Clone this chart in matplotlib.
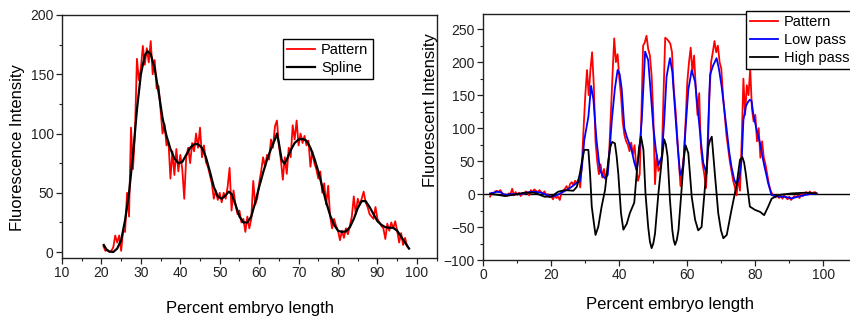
import numpy as np
import matplotlib
matplotlib.use("Agg")
import matplotlib.pyplot as plt
from matplotlib.ticker import MultipleLocator

plt.rcParams['font.family'] = ['Liberation Sans', 'DejaVu Sans']

# ---- left panel: pattern + spline ----
left_pattern_y = [
    5, 1, 2, 0, 1, 4, 14, 8, 14, 1,
    18, 17, 50, 30, 105, 70, 100, 163, 145, 155,
    174, 158, 172, 160, 178, 150, 162, 138, 140, 120,
    100, 108, 90, 93, 62, 85, 65, 87, 68, 82,
    70, 45, 80, 88, 75, 92, 85, 100, 88, 105,
    80, 90, 76, 72, 65, 58, 45, 52, 44, 50,
    42, 50, 45, 55, 71, 35, 52, 40, 32, 35,
    25, 28, 17, 30, 20, 28, 60, 40, 45, 58,
    68, 80, 72, 82, 78, 95, 88, 106, 111, 90,
    78, 61, 80, 66, 88, 80, 107, 95, 111, 90,
    100, 92, 98, 90, 94, 72, 85, 75, 70, 62,
    68, 50, 58, 40, 56, 30, 20, 28, 22, 18,
    10, 18, 12, 20, 15, 22, 30, 47, 32, 45,
    40, 45, 51, 42, 38, 32, 30, 28, 38, 28,
    25, 22, 20, 11, 24, 18, 25, 20, 26, 18,
    8, 16, 6, 12, 5, 3,
]
left_pattern_x = np.linspace(20.5, 98.0, len(left_pattern_y))

spline_x = [20.6, 21.3, 22, 23, 24, 25, 26, 27, 28, 29, 30, 31, 31.7, 32.5,
            33.5, 34.5, 35.5, 36.5, 37.5, 38.5, 39.5, 40.5, 41.5, 42.5, 43.5,
            44.5, 45.5, 46.5, 47.5, 48.5, 49.5, 50.5, 51.5, 52.3, 53, 54, 55,
            56, 57, 58, 59, 60, 61, 62, 63, 64, 64.5, 65, 65.7, 66.4, 67, 68,
            69, 70, 71, 72, 73, 74, 75, 76, 77, 78, 79, 80, 81, 82, 83, 84, 85,
            86, 87, 88, 89, 90, 91, 92, 93, 94, 95, 96, 97, 98]
spline_y = [6, 2, 0.5, 0, 3, 10, 27, 50, 82, 120, 150, 166, 169.5, 167,
            155, 135, 113, 98, 87, 79, 75, 76, 82, 88, 91,
            91, 88, 80, 68, 55, 47, 45, 48, 51, 49, 40, 30,
            25, 25, 30, 42, 55, 67, 78, 87, 95, 100, 92, 78, 74.5, 78, 86,
            92, 95, 95.5, 94, 88, 79, 68, 55, 42, 31, 23, 18, 17, 17.5, 21, 28, 37,
            43, 43, 38, 32, 26, 23, 21, 20.5, 20.5, 18, 13, 8, 3]

# ---- right panel: pattern, low pass, high pass ----
right_pattern_y = [
    -4, 2, 0, 4, 5, 3, 6, 2, -2, 0,
    -3, 1, 0, 8, -2, 3, -1, 2, -3, 1,
    0, 4, 2, -2, 6, 3, 7, 5, 2, 6,
    3, 1, 4, -2, 0, -5, -3, -8, -2, -6,
    -4, -9, 2, 5, 8, 12, 6, 15, 18, 14,
    20, 17, 22, 10, 45, 100, 150, 188, 150, 188,
    215, 165, 80, 50, 30, 45, 25, 38, 22, 35,
    60, 120, 180, 236, 200, 212, 175, 150, 110, 90,
    80, 75, 65, 78, 60, 74, 40, 20, 30, 120,
    225, 230, 240, 220, 210, 180, 120, 15, 60, 35,
    40, 55, 150, 237, 235, 232, 228, 215, 160, 130,
    90, 50, 12, 35, 60, 110, 170, 200, 222, 185,
    210, 160, 120, 153, 70, 45, 30, 9, 60, 150,
    200, 215, 232, 215, 225, 200, 190, 150, 120, 90,
    70, 50, 35, 20, 10, -2, 25, 5, 80, 175,
    120, 165, 150, 190, 130, 110, 120, 80, 100, 55,
    80, 55, 45, 30, 15, 5, 0, -3, -5, -2,
    -6, -3, -7, -2, -5, -8, -4, -9, -6, -3,
    -5, -2, -6, 0, -3, 1, 3, -1, 4, 1,
    2, 3, 1,
]
right_pattern_x = np.linspace(2.0, 98.0, len(right_pattern_y))

low_x = [2, 3, 4, 5, 6.4, 8, 10, 12, 13.5, 15.2, 17, 18.5, 20, 21.5, 23, 24.5,
         26, 27.5, 28.4, 29, 29.7, 30.9, 31.7, 32.4, 33.3, 34.3, 35.2, 35.8,
         36.6, 37.8, 38.7, 39.5, 40.1, 40.7, 41.5, 42.2, 43.6, 44.4, 45.1,
         45.8, 46.6, 47.6, 48.5, 49.3, 50, 50.8, 51.5, 52.5, 53.2, 53.9, 54.9,
         55.6, 56.4, 57.2, 57.9, 58.8, 59.5, 60.3, 61.3, 62.3, 63.3, 64, 64.7,
         65.7, 66.2, 66.7, 67.6, 68.6, 69.3, 70.1, 71.6, 72.3, 73, 73.8, 74.5,
         75.3, 76, 76.5, 77.2, 77.9, 78.4, 78.9, 79.4, 80.4, 81.4, 82, 82.6,
         83.3, 83.8, 84.8, 86.8, 88.5, 90.7, 92.5, 94.6, 96, 98]
low_y = [1, 2, 3.5, 3, -1.5, 0, -0.5, 1, 3, 3.5, 2, -1, -4, -2, 2, 6,
         11, 17, 19, 40, 82, 117, 164, 143, 82, 36, 27, 24,
         29, 112, 160, 188, 182, 160, 100, 87, 67, 48, 36,
         60, 112, 216, 203, 150, 102, 65, 44, 57, 110, 178, 206,
         185, 127, 70, 29, 41, 100, 158, 188, 170, 117, 80, 47,
         31, 110, 181, 195, 206, 190, 163, 97, 65, 41, 22, 14,
         25, 52, 112, 133, 140, 143, 141, 122, 97, 77, 60, 44,
         28, 16, -1.5, -4, -4, -6.6, -4, -1.5, 0, 0.5]

high_x = [2, 4, 6.4, 9, 12, 15, 18, 20, 22, 24, 26.5, 27.5, 28.4, 29.1, 29.7,
          30.9, 31.4, 31.9, 32.4, 33, 33.8, 34.8, 35.8, 36.8, 37.4, 37.9, 38.7,
          39.2, 39.7, 40.5, 41.2, 42.2, 43.1, 44.4, 45.1, 45.8, 46.4, 47.1,
          47.7, 48.5, 49.0, 49.5, 50.0, 50.5, 51.5, 52.5, 53.2, 53.7, 54.2,
          54.9, 55.6, 56.0, 56.4, 56.9, 57.4, 58.3, 59.0, 59.5, 60.3, 61.3,
          62.3, 63.2, 64.2, 65.2, 66.2, 66.7, 67.2, 68.1, 69.1, 69.9, 70.6,
          71.6, 73, 74.5, 75.5, 76.2, 76.7, 77.2, 78.4, 79.9, 81.4, 82.6,
          83.8, 84.8, 86.8, 90.7, 94.6, 98]
high_y = [0, -1, -3, -1, 2, 2, -4, -4, 3.5, 6, 5, 11, 31, 52, 67,
          67, 31, -19, -39, -62, -50, -19, 6, 52, 72, 79, 77,
          58, 31, -29, -54, -45, -29, -13, 31, 70, 87, 67,
          1, -50, -72, -82, -75, -60, 1, 52, 83, 75, 57,
          -9, -55, -70, -77, -70, -55, 6, 55, 74, 62, -4,
          -39, -55, -50, 11, 72, 82, 87, 31, -29, -55, -67,
          -62, -24, 14, 52, 56, 48, 31, -19, -24, -27, -32,
          -19, -7, -1.5, 1, 2, 1]

W, H = 850, 320
fig = plt.figure(figsize=(W / 100, H / 100), dpi=100)


def style_axes(ax):
    for sp in ax.spines.values():
        sp.set_linewidth(1.0)
        sp.set_color('#222222')
    ax.tick_params(which='major', direction='out', length=4, width=0.9,
                   labelsize=10, pad=2, colors='#222222')
    ax.tick_params(which='minor', direction='out', length=2.5, width=0.8,
                   colors='#222222')


# left axes
ax1 = fig.add_axes([62 / W, 1 - 258 / H, (437 - 62) / W, (258 - 15) / H])
ax1.plot(left_pattern_x, left_pattern_y, color='#ff0000', lw=1.3, label='Pattern')
ax1.plot(spline_x, spline_y, color='black', lw=1.6, label='Spline')
ax1.set_xlim(10, 105.1)
ax1.set_ylim(-5, 200)
ax1.xaxis.set_major_locator(MultipleLocator(10))
ax1.xaxis.set_minor_locator(MultipleLocator(5))
ax1.yaxis.set_major_locator(MultipleLocator(50))
ax1.yaxis.set_minor_locator(MultipleLocator(25))
style_axes(ax1)
ax1.legend(loc='upper left', bbox_to_anchor=(283 / W, 1 - 39 / H),
           bbox_transform=fig.transFigure, borderaxespad=0, fancybox=False,
           edgecolor='black', framealpha=1, fontsize=10.5, handlelength=1.9,
           handletextpad=0.4, borderpad=0.3, labelspacing=0.25)
ax1.get_legend().get_frame().set_linewidth(1.0)

# right axes
ax2 = fig.add_axes([483.3 / W, 1 - 260 / H, 110 * 3.4 / W, (260 - 14) / H])
ax2.axhline(0, color='black', lw=1.0)
ax2.plot(right_pattern_x, right_pattern_y, color='#ff0000', lw=1.3, label='Pattern')
ax2.plot(low_x, low_y, color='#0000ff', lw=1.3, label='Low pass')
ax2.plot(high_x, high_y, color='black', lw=1.3, label='High pass')
ax2.set_xlim(0, 110)
ax2.set_ylim(-100, 273)
ax2.xaxis.set_major_locator(MultipleLocator(20))
ax2.xaxis.set_minor_locator(MultipleLocator(10))
ax2.yaxis.set_major_locator(MultipleLocator(50))
ax2.yaxis.set_minor_locator(MultipleLocator(25))
style_axes(ax2)
ax2.legend(loc='upper left', bbox_to_anchor=(746 / W, 1 - 11 / H),
           bbox_transform=fig.transFigure, borderaxespad=0, fancybox=False,
           edgecolor='black', framealpha=1, fontsize=10.5, handlelength=1.9,
           handletextpad=0.4, borderpad=0.3, labelspacing=0.25)
ax2.get_legend().get_frame().set_linewidth(1.0)

# axis titles
fig.text(250 / W, 1 - 308 / H, 'Percent embryo length', ha='center', va='center', fontsize=12)
fig.text(18 / W, 1 - 148 / H, 'Fluorescence Intensity', ha='center', va='center',
         rotation=90, fontsize=12)
fig.text(670 / W, 1 - 305 / H, 'Percent embryo length', ha='center', va='center', fontsize=12)
fig.text(430 / W, 1 - 110 / H, 'Fluorescent Intensity', ha='center', va='center',
         rotation=90, fontsize=12)

fig.savefig('out.png', dpi=100)
